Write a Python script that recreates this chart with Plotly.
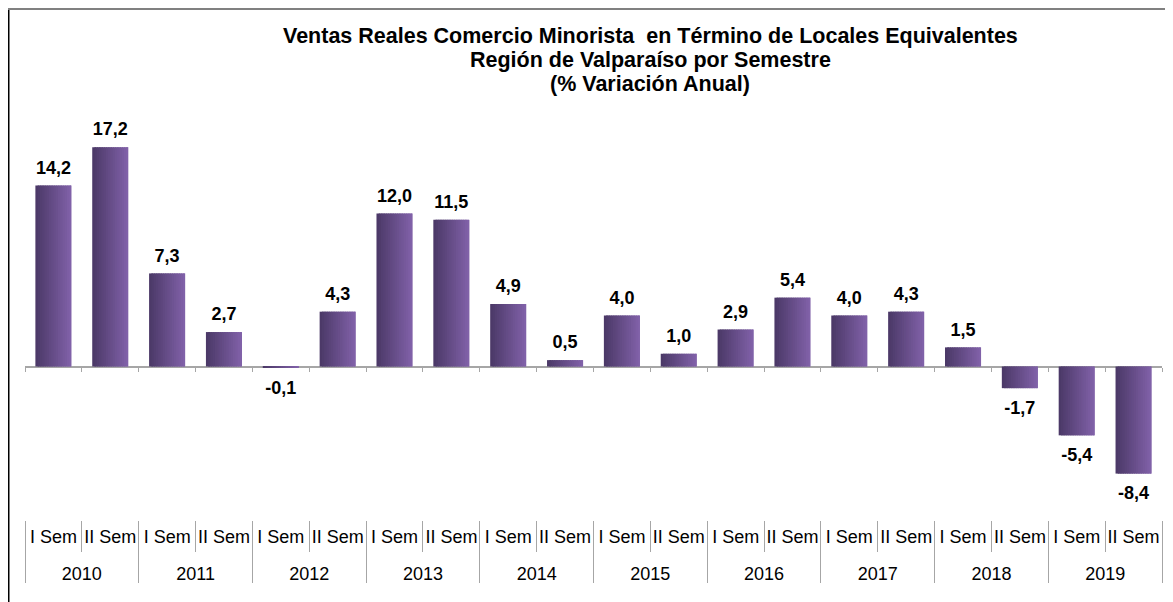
import plotly.graph_objects as go

# ---------------- data ----------------
years = ["2010", "2011", "2012", "2013", "2014", "2015", "2016", "2017", "2018", "2019"]
semesters = ["I Sem", "II Sem"]
values = [14.2, 17.2, 7.3, 2.7, -0.1, 4.3, 12.0, 11.5, 4.9, 0.5,
          4.0, 1.0, 2.9, 5.4, 4.0, 4.3, 1.5, -1.7, -5.4, -8.4]
title_lines = ["Ventas Reales Comercio Minorista  en Término de Locales Equivalentes",
               "Región de Valparaíso por Semestre",
               "(% Variación Anual)"]

categories = [f"{y} {s}" for y in years for s in semesters]
sem_labels = [s for y in years for s in semesters]
labels = [f"{v:.1f}".replace(".", ",") for v in values]
n = len(values)

# ---------------- style ----------------
FONT = "Liberation Sans, Arial, sans-serif"
OFF = 8  # page body margin offset
W, H = 1173 - OFF, 602 - OFF
ML, MR, MT, MB = 25 - OFF, 11, 120 - OFF, 20
PX_PER_UNIT = 12.75
ZERO_PX = 366.5 - OFF
plot_h = H - MT - MB
plot_w = W - ML - MR
ymax = (ZERO_PX - MT) / PX_PER_UNIT
ymin = -(H - MB - ZERO_PX) / PX_PER_UNIT


def ypos(px):
    return (H - MB - px) / plot_h


def xpos(px):
    return (px - ML) / plot_w


BAR_W = 0.635
N_SLICES = 16
c0 = (74, 56, 102)
c1 = (130, 98, 170)

fig = go.Figure()
step = BAR_W / N_SLICES
for i in range(N_SLICES):
    t = (i + 0.5) / N_SLICES
    col = tuple(round(c0[k] + (c1[k] - c0[k]) * t) for k in range(3))
    start = -BAR_W / 2 + i * step
    width = min(step * 1.8, BAR_W / 2 - start)
    fig.add_trace(go.Bar(
        x=categories, y=values,
        offset=start, width=width,
        marker=dict(color=f"rgb{col}", line=dict(width=0)),
        hoverinfo="skip", showlegend=False,
    ))

# data labels
fig.add_trace(go.Scatter(
    x=categories, y=values, mode="markers+text",
    text=labels,
    textposition=["top center" if v >= 0 else "bottom center" for v in values],
    textfont=dict(family=FONT, size=18, color="black", weight="bold"),
    marker=dict(size=[10 if v >= 0 else 18 for v in values], opacity=0),
    hoverinfo="skip", showlegend=False,
))

# helper invisible traces for auxiliary axes
idx = list(range(n))
for ax in ["x2", "x3"]:
    fig.add_trace(go.Scatter(x=idx, y=[0] * n, xaxis=ax, yaxis="y", mode="markers",
                             marker=dict(opacity=0), hoverinfo="skip", showlegend=False))

year_centers = [2 * k + 0.5 for k in range(len(years))]
boundaries = [k - 0.5 for k in range(n + 1)]
year_bounds = [2 * k - 0.5 for k in range(len(years) + 1)]
LABEL_AXIS_PX = 520 - OFF

fig.update_layout(
    width=W, height=H,
    margin=dict(l=ML, r=MR, t=MT, b=MB, autoexpand=False),
    paper_bgcolor="white", plot_bgcolor="white",
    barmode="overlay",
    font=dict(family=FONT, color="black"),
    xaxis=dict(
        type="category", categoryorder="array", categoryarray=categories,
        range=[-0.5, n - 0.5], anchor="free", position=ypos(ZERO_PX), automargin=False,
        showline=False, showgrid=False, zeroline=False, showticklabels=False,
        ticks="outside", tickson="boundaries", ticklen=4, tickwidth=1, tickcolor="#a6a6a6",
    ),
    xaxis2=dict(
        overlaying="x", anchor="free", position=ypos(LABEL_AXIS_PX), side="bottom",
        automargin=False,
        range=[-0.5, n - 0.5], showgrid=False, zeroline=False, showline=False,
        tickmode="array", tickvals=idx, ticktext=sem_labels, ticks="",
        tickfont=dict(family=FONT, size=18, color="black"),
        ticklabelstandoff=4,
        minor=dict(tickmode="array", tickvals=boundaries, ticks="outside",
                   ticklen=31, tickwidth=1, tickcolor="#a6a6a6", showgrid=False),
    ),
    xaxis3=dict(
        overlaying="x", anchor="free", position=ypos(LABEL_AXIS_PX), side="bottom",
        automargin=False,
        range=[-0.5, n - 0.5], showgrid=False, zeroline=False, showline=False,
        tickmode="array", tickvals=year_centers, ticktext=years, ticks="",
        tickfont=dict(family=FONT, size=18, color="black"),
        ticklabelstandoff=41,
        minor=dict(tickmode="array", tickvals=year_bounds, ticks="outside",
                   ticklen=62, tickwidth=1, tickcolor="#a6a6a6", showgrid=False),
    ),
    yaxis=dict(
        range=[ymin, ymax], showgrid=False, showticklabels=False, ticks="", automargin=False,
        showline=False, zeroline=True, zerolinecolor="#a6a6a6", zerolinewidth=1.5,
    ),
    annotations=[
        dict(text=line, xref="paper", yref="paper", x=xpos(650 - OFF), y=ypos(yc - OFF),
             xanchor="center", yanchor="middle", showarrow=False,
             font=dict(family=FONT, size=21.5, color="black", weight="bold"))
        for line, yc in zip(title_lines, [36, 60, 84])
    ],
    shapes=[
        dict(type="line", xref="paper", yref="paper",
             x0=xpos(0.75), x1=xpos(0.75), y0=ypos(0), y1=ypos(H + 5),
             line=dict(color="black", width=1.5)),
        dict(type="line", xref="paper", yref="paper",
             x0=xpos(0), x1=xpos(W + 5), y0=ypos(1), y1=ypos(1),
             line=dict(color="#808080", width=2)),
    ],
)

fig.write_html("out.html")
